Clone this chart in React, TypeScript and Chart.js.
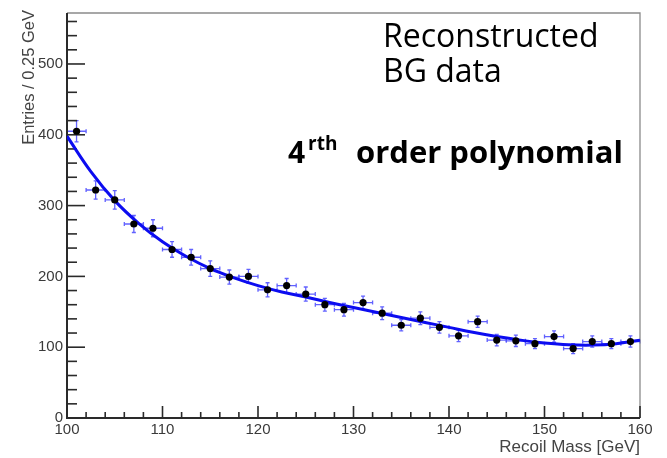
import React, { useEffect, useRef } from "react";
import { Chart, registerables } from "chart.js";

Chart.register(...registerables);

// ---- data ----
const massBins = [101, 103, 105, 107, 109, 111, 113, 115, 117, 119, 121, 123, 125, 127, 129, 131, 133, 135, 137, 139, 141, 143, 145, 147, 149, 151, 153, 155, 157, 159];
const entries = [405, 322, 308, 274, 268, 238, 227, 211, 199, 200, 181, 187, 175, 160, 153, 163, 148, 131, 141, 128, 116, 136, 110, 109, 105, 115, 98, 108, 105, 108];
const entryErrors = [15, 13, 13, 12, 12, 11, 11, 11, 10, 10, 10, 10, 10, 9, 9, 9, 9, 8, 9, 8, 8, 8, 8, 8, 7, 8, 7, 8, 7, 8];
const binHalfWidth = 1;

const fitMass = [100, 102.5, 105, 107.5, 110, 112.5, 115, 117.5, 120, 122.5, 125, 127.5, 130, 132.5, 135, 137.5, 140, 142.5, 145, 147.5, 150, 152.5, 155, 157.5, 160];
const fitEntries = [398, 348, 307, 275, 249, 228, 211, 198, 187, 178, 171, 163, 156, 149, 142, 135, 128, 121, 115, 110, 106, 103.5, 103, 105, 110];

const xTickValues = [100, 110, 120, 130, 140, 150, 160];
const yTickValues = [0, 100, 200, 300, 400, 500];

const xAxisTitle = "Recoil Mass [GeV]";
const yAxisTitle = "Entries / 0.25 GeV";
const noteLine1 = "Reconstructed";
const noteLine2 = "BG data";
const fitNumber = "4";
const fitSup = "rth";
const fitText = "order polynomial";

const errorBarPlugin = {
  id: "errorBars",
  beforeDatasetsDraw(chart: any) {
    const { ctx, scales } = chart;
    const x = scales.x, y = scales.y;
    ctx.save();
    ctx.strokeStyle = "rgba(80,80,255,0.9)";
    ctx.lineWidth = 1.3;
    const cap = 2;
    massBins.forEach((m, i) => {
      const px = x.getPixelForValue(m);
      const py = y.getPixelForValue(entries[i]);
      const xl = x.getPixelForValue(m - binHalfWidth);
      const xr = x.getPixelForValue(m + binHalfWidth);
      const yt = y.getPixelForValue(entries[i] + entryErrors[i]);
      const yb = y.getPixelForValue(entries[i] - entryErrors[i]);
      ctx.beginPath();
      ctx.moveTo(xl, py); ctx.lineTo(xr, py);
      ctx.moveTo(px, yt); ctx.lineTo(px, yb);
      ctx.moveTo(xl, py - cap); ctx.lineTo(xl, py + cap);
      ctx.moveTo(xr, py - cap); ctx.lineTo(xr, py + cap);
      ctx.moveTo(px - cap, yt); ctx.lineTo(px + cap, yt);
      ctx.moveTo(px - cap, yb); ctx.lineTo(px + cap, yb);
      ctx.stroke();
    });
    ctx.restore();
  },
};

const framePlugin = {
  id: "rootFrame",
  beforeDatasetsDraw(chart: any) {
    const { ctx, chartArea, scales } = chart;
    const x = scales.x, y = scales.y;
    const { left, right, top, bottom } = chartArea;
    ctx.save();
    // top & right frame
    ctx.strokeStyle = "#8a8a8a";
    ctx.lineWidth = 1.3;
    ctx.beginPath();
    ctx.moveTo(left, top); ctx.lineTo(right, top); ctx.lineTo(right, bottom);
    ctx.stroke();
    // axes
    ctx.strokeStyle = "#2a2a2a";
    ctx.lineWidth = 2;
    ctx.beginPath();
    ctx.moveTo(left, top); ctx.lineTo(left, bottom); ctx.lineTo(right, bottom);
    ctx.stroke();
    // y ticks
    ctx.lineWidth = 1.6;
    for (let v = 0; v <= y.max; v += 20) {
      const py = y.getPixelForValue(v);
      const len = v % 100 === 0 ? 18 : 10;
      ctx.beginPath();
      ctx.moveTo(left, py); ctx.lineTo(left + len, py);
      ctx.stroke();
    }
    // x ticks
    for (let v = x.min; v <= x.max; v += 2) {
      const px = x.getPixelForValue(v);
      const len = (v - x.min) % 10 === 0 ? 12 : 6;
      ctx.beginPath();
      ctx.moveTo(px, bottom); ctx.lineTo(px, bottom - len);
      ctx.stroke();
    }
    ctx.restore();
  },
  afterDraw(chart: any) {
    const { ctx, chartArea } = chart;
    ctx.save();
    // axis titles
    ctx.fillStyle = "#444";
    ctx.font = "17px 'Liberation Sans', Arial, sans-serif";
    ctx.textAlign = "right";
    ctx.textBaseline = "alphabetic";
    ctx.fillText(xAxisTitle, chartArea.right, 452);
    ctx.font = "16.5px 'Liberation Sans', Arial, sans-serif";
    ctx.save();
    ctx.translate(34, 10);
    ctx.rotate(-Math.PI / 2);
    ctx.fillText(yAxisTitle, 0, 0);
    ctx.restore();
    // annotations
    ctx.fillStyle = "#000";
    ctx.textAlign = "left";
    ctx.font = "32px 'Open Sans', sans-serif";
    ctx.fillText(noteLine1, 383, 47);
    ctx.fillText(noteLine2, 383, 82);
    ctx.font = "bold 30px 'Open Sans', sans-serif";
    ctx.fillText(fitNumber, 288, 163);
    ctx.font = "bold 19px 'Open Sans', sans-serif";
    ctx.fillText(fitSup, 308, 150);
    ctx.font = "bold 31px 'Open Sans', sans-serif";
    ctx.fillText(fitText, 356, 163);
    ctx.restore();
  },
};

export default function App() {
  const canvasRef = useRef<HTMLCanvasElement | null>(null);

  useEffect(() => {
    if (!canvasRef.current) return;
    const tickFont = { family: "'Liberation Sans', Arial, sans-serif", size: 15 };
    const chart = new Chart(canvasRef.current, {
      type: "scatter",
      data: {
        datasets: [
          {
            type: "line",
            data: fitMass.map((m, i) => ({ x: m, y: fitEntries[i] })),
            borderColor: "#0c0cf0",
            borderWidth: 3,
            pointRadius: 0,
            tension: 0.4,
            fill: false,
            order: 1,
          } as any,
          {
            type: "scatter",
            data: massBins.map((m, i) => ({ x: m, y: entries[i] })),
            pointRadius: 3.6,
            backgroundColor: "#000",
            borderWidth: 0,
            order: 0,
          } as any,
        ],
      },
      options: {
        animation: false,
        responsive: true,
        maintainAspectRatio: false,
        layout: { padding: { left: 0, top: 8, right: 27, bottom: 0 } },
        plugins: { legend: { display: false }, tooltip: { enabled: false } },
        scales: {
          x: {
            type: "linear",
            min: 100,
            max: 160,
            afterBuildTicks: (s: any) => { s.ticks = xTickValues.map((v) => ({ value: v })); },
            afterFit: (s: any) => { s.height = 40; },
            grid: { display: false, drawTicks: false },
            border: { display: false },
            ticks: { font: tickFont, color: "#3a3a3a", padding: 3, maxRotation: 0, autoSkip: false },
          },
          y: {
            type: "linear",
            min: 0,
            max: 572,
            afterBuildTicks: (s: any) => { s.ticks = yTickValues.map((v) => ({ value: v })); },
            afterFit: (s: any) => { s.width = 67; },
            grid: { display: false, drawTicks: false },
            border: { display: false },
            ticks: { font: tickFont, color: "#3a3a3a", padding: 4, autoSkip: false },
          },
        },
      },
      plugins: [errorBarPlugin, framePlugin],
    });
    return () => chart.destroy();
  }, []);

  return (
    <div style={{ position: "absolute", left: 0, top: 0, width: 667, height: 458, background: "#fff" }}>
      <canvas ref={canvasRef} />
    </div>
  );
}
